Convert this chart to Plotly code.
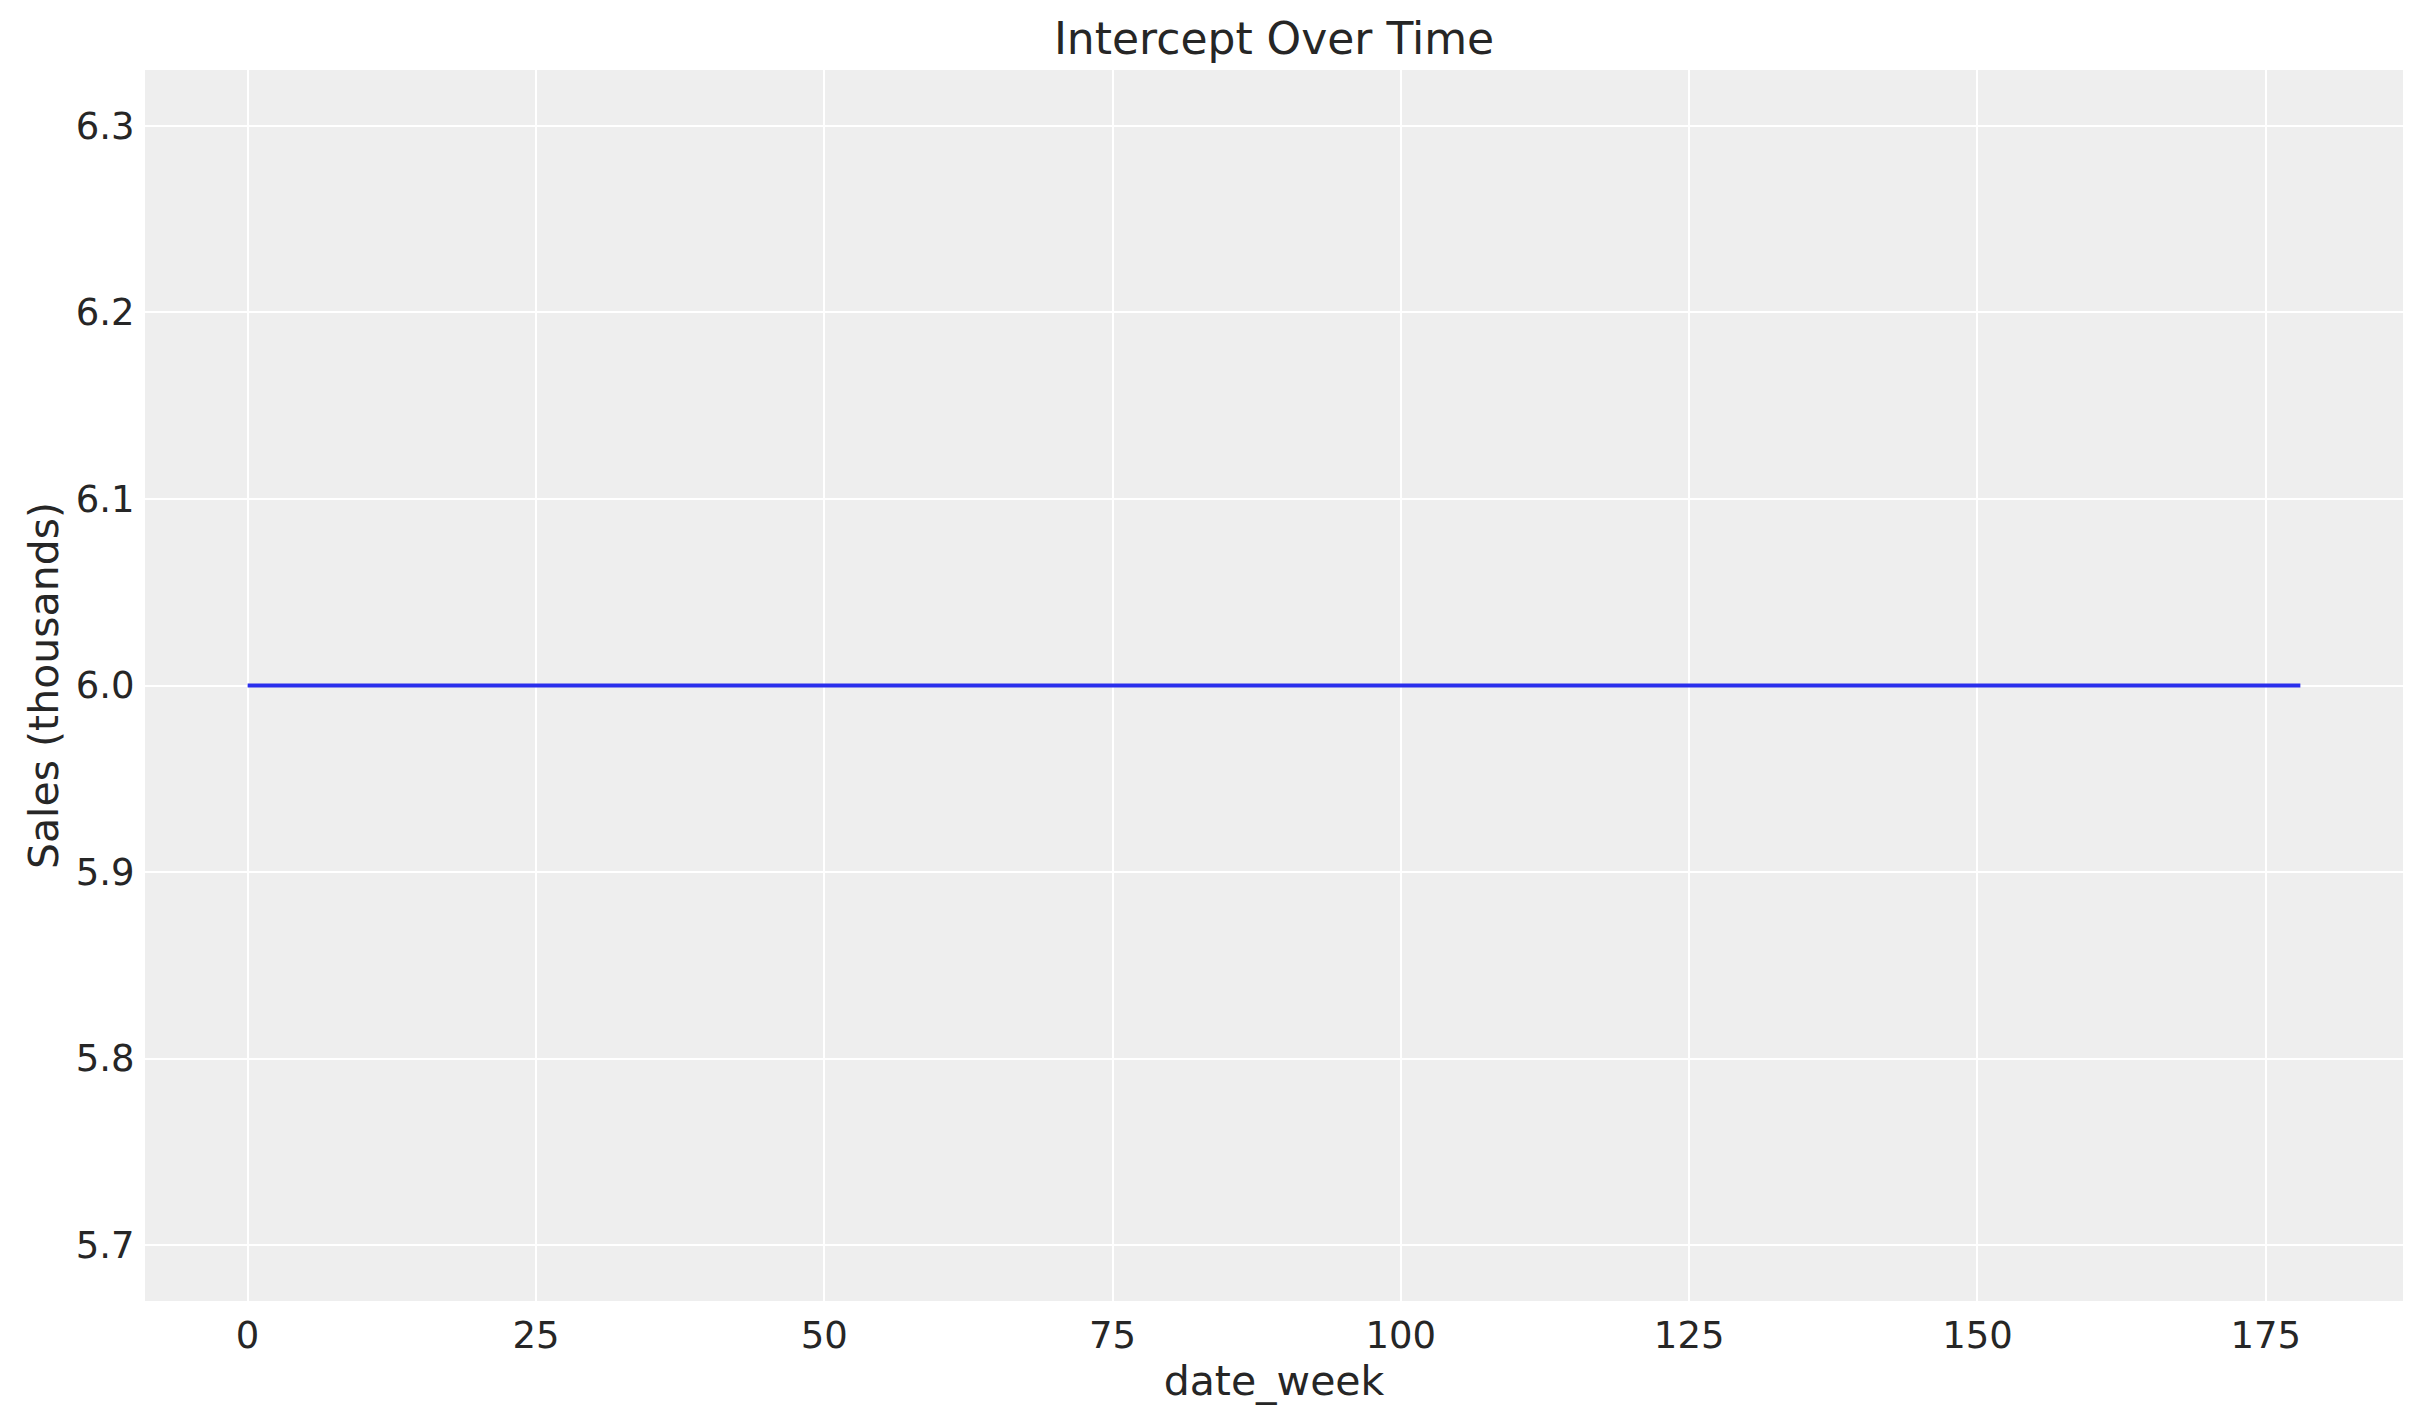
import plotly.graph_objects as go

# Data
date_week = list(range(0, 179))
intercept_thousands = [6.0] * len(date_week)

x_tick_vals = [0, 25, 50, 75, 100, 125, 150, 175]
y_tick_vals = [5.7, 5.8, 5.9, 6.0, 6.1, 6.2, 6.3]
y_tick_text = ["5.7", "5.8", "5.9", "6.0", "6.1", "6.2", "6.3"]

FONT = "DejaVu Sans"
TXT = "#262626"

fig = go.Figure()
fig.add_trace(go.Scatter(
    x=date_week, y=intercept_thousands, mode="lines",
    line=dict(color="#2a2eec", width=4), showlegend=False,
))

fig.update_layout(
    width=2423, height=1423,
    margin=dict(l=137, r=28, t=62, b=130),
    paper_bgcolor="white", plot_bgcolor="#eeeeee",
    font=dict(family=FONT, color=TXT, size=39),
    title=dict(text="Intercept Over Time", font=dict(size=44, family=FONT, color=TXT),
               x=0.5, xref="paper", xanchor="center",
               y=1 - 31 / 1423, yref="container", yanchor="middle"),
)
fig.update_xaxes(
    range=[-8.9, 186.9], tickvals=x_tick_vals, showgrid=True, gridcolor="white", gridwidth=2,
    zeroline=False, showline=False, ticks="outside", ticklen=2, tickcolor="rgba(0,0,0,0)",
    tickfont=dict(size=37, family=FONT, color=TXT),
    title=dict(text="date_week", font=dict(size=41, family=FONT, color=TXT), standoff=0),
)
fig.update_yaxes(
    range=[5.67, 6.33], tickvals=y_tick_vals, ticktext=y_tick_text, showgrid=True,
    gridcolor="white", gridwidth=2, zeroline=False, showline=False,
    ticks="outside", ticklen=2, tickcolor="rgba(0,0,0,0)",
    tickfont=dict(size=37, family=FONT, color=TXT),
    title=dict(text="Sales (thousands)", font=dict(size=41, family=FONT, color=TXT), standoff=4),
)

fig.write_html("out.html")
